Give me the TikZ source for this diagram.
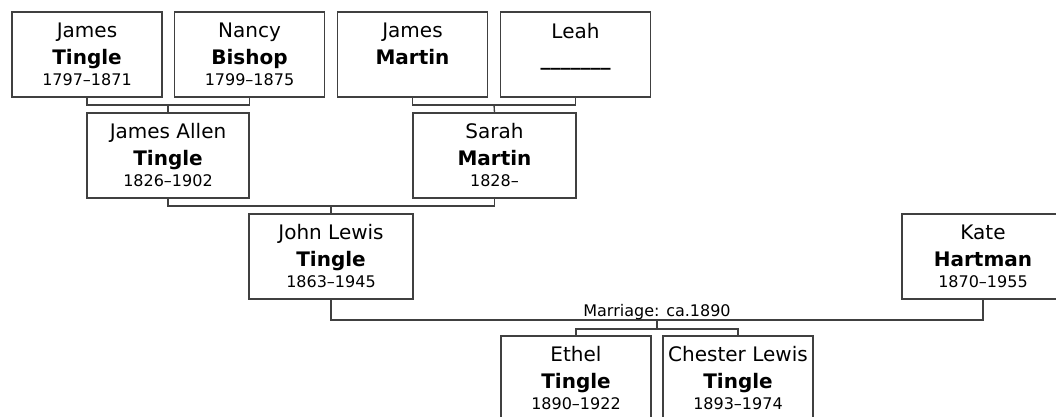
\documentclass[tikz,border=0pt]{standalone}
\usepackage{fontspec}
\setmainfont{DejaVu Sans}
\usepackage{xcolor}
\usetikzlibrary{positioning, calc}

\newcommand{\yrs}[1]{{\fontsize{12}{15}\selectfont #1\vphantom{1}}}

\begin{document}
\begin{tikzpicture}[x=0.75pt, y=-0.75pt,
    person/.style={draw=black!75, line width=1pt, fill=white, align=center,
        inner sep=0pt, minimum width=#1*0.75pt, minimum height=63.75pt,
        font=\fontsize{15}{20.25}\selectfont},
    person/.default=150,
    link/.style={draw=black!75, line width=1pt}]
\useasboundingbox (0,0) rectangle (1056,417);

% Grandparents
\node[person] (jt) at (87, 54.5) {James\\\textbf{Tingle}\\[-4.5pt]\yrs{1797--1871}};
\node[person] (nb) at (249.5, 54.5) {Nancy\\\textbf{Bishop}\\[-4.5pt]\yrs{1799--1875}};
\node[person] (jm) at (412.5, 54.5) {James\\\textbf{Martin}\\[-4.5pt]\yrs{}};
\node[person] (lh) at (575.5, 54.5) {Leah\\\textbf{\_\_\_\_\_\_\_}\\[-4.5pt]\yrs{}};

% Parents
\node[person=162] (jat) at (168, 155.5) {James Allen\\\textbf{Tingle}\\[-4.5pt]\yrs{1826--1902}};
\node[person=163] (sm) at (494.5, 155.5) {Sarah\\\textbf{Martin}\\[-4.5pt]\yrs{1828--}};

% Couple
\node[person=164] (jlt) at (331, 256.5) {John Lewis\\\textbf{Tingle}\\[-4.5pt]\yrs{1863--1945}};
\node[person=162] (kh) at (983, 256.5) {Kate\\\textbf{Hartman}\\[-4.5pt]\yrs{1870--1955}};

% Children
\node[person] (et) at (576, 378.5) {Ethel\\\textbf{Tingle}\\[-4.5pt]\yrs{1890--1922}};
\node[person] (clt) at (738, 378.5) {Chester Lewis\\\textbf{Tingle}\\[-4.5pt]\yrs{1893--1974}};

% Family links
\coordinate (u1) at (168, 105);
\coordinate (u2) at (494, 105);
\coordinate (u3) at (331, 206);
\draw[link] (jt.south) |- (u1) -| (nb.south);
\draw[link] (u1) -- (jat.north);
\draw[link] (jm.south) |- (u2) -| (lh.south);
\draw[link] (u2) -- (sm.north);
\draw[link] (jat.south) |- (u3) -| (sm.south);
\draw[link] (u3) -- (jlt.north);

% Marriage
\coordinate (m) at (657, 320);
\coordinate (kids) at (657, 329);
\draw[link] (jlt.south) |- (m) -| (kh.south);
\node[anchor=base, inner sep=0pt, font=\fontsize{12}{14}\selectfont] (mlabel) at (657, 316) {Marriage: ca.1890};
\draw[link] (m) -- (kids);
\draw[link] (et.north) |- (kids) -| (clt.north);
\end{tikzpicture}
\end{document}
